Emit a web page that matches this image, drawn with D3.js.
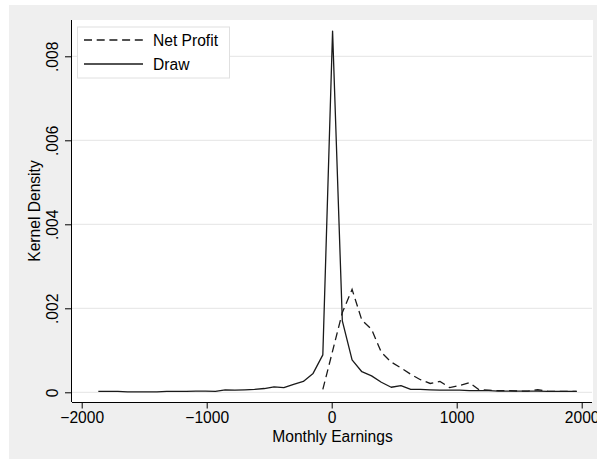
<!DOCTYPE html>
<html>
<head>
<meta charset="utf-8">
<script src="https://cdn.jsdelivr.net/npm/d3@7"></script>
<style>
  html, body { margin: 0; padding: 0; background: #ffffff; }
  svg { display: block; font-family: "Liberation Sans", Arial, Helvetica, sans-serif; }
</style>
</head>
<body>
<svg id="chart" width="597" height="459"></svg>
<script>
// Evaluation grid for the kernel density estimates (monthly earnings)
const gridX = [-1867, -1789, -1711, -1633, -1555, -1476, -1398, -1320, -1242, -1164,
               -1086, -1008, -930, -852, -774, -696, -617, -539, -461, -383,
               -305, -227, -149, -71, 7, 85, 163, 241, 319, 397,
               476, 554, 632, 710, 788, 866, 944, 1023, 1101, 1179,
               1257, 1335, 1413, 1492, 1570, 1648, 1726, 1804, 1882, 1960];

// Density of draws
const drawDensity = [0.00002, 0.00002, 0.00002, 0.00001, 0.00001, 0.00001, 0.00001, 0.00002, 0.00002, 0.00002,
                     0.00003, 0.00003, 0.00002, 0.00006, 0.00005, 0.00006, 0.00007, 0.00009, 0.00013, 0.00011,
                     0.00019, 0.00026, 0.00045, 0.00089, 0.00860, 0.00170, 0.00077, 0.00049, 0.00039, 0.00024,
                     0.00012, 0.00016, 0.00007, 0.00007, 0.00006, 0.00005, 0.00005, 0.00005, 0.00004, 0.00004,
                     0.00004, 0.00003, 0.00003, 0.00003, 0.00003, 0.00003, 0.00002, 0.00002, 0.00002, 0.00002];

// Density of net profit (defined from the 24th grid point on)
const profitStart = 23;
const profitDensity = [0.00007, 0.00098, 0.00190, 0.00245, 0.00172, 0.00150, 0.00095, 0.00072, 0.00058, 0.00043,
                       0.00030, 0.00021, 0.00026, 0.00011, 0.00016, 0.00023, 0.00006, 0.00005, 0.00004, 0.00004,
                       0.00003, 0.00003, 0.00006, 0.00003, 0.00002, 0.00002, 0.00002];

const xTicks = [-2000, -1000, 0, 1000, 2000];
const yTicks = [0, 0.002, 0.004, 0.006, 0.008];
const yTickLabels = ["0", ".002", ".004", ".006", ".008"];
const seriesNames = ["Net Profit", "Draw"];

const svg = d3.select("#chart");
const fontSize = 15.6;

// Outer graph region and white plot region
svg.append("rect").attr("x", 9).attr("y", 5).attr("width", 600).attr("height", 460)
  .attr("fill", "#efefef");
const plot = { left: 72, top: 20, right: 593, bottom: 402 };
svg.append("rect").attr("x", plot.left).attr("y", plot.top)
  .attr("width", plot.right - plot.left).attr("height", plot.bottom - plot.top)
  .attr("fill", "#ffffff");

const x = d3.scaleLinear().domain([-2000, 2000]).range([81.7, 581.7]);
const y = d3.scaleLinear().domain([0, 0.008]).range([392.3, 56.3]);

// Horizontal grid lines
svg.append("g").selectAll("line").data(yTicks).join("line")
  .attr("x1", plot.left).attr("x2", plot.right - 1)
  .attr("y1", d => y(d)).attr("y2", d => y(d))
  .attr("stroke", "#e4e4e4").attr("stroke-width", 1);

// Density curves
const line = d3.line().x(d => x(d[0])).y(d => y(d[1]));
const drawPts = gridX.map((v, i) => [v, drawDensity[i]]);
const profitPts = profitDensity.map((d, i) => [gridX[profitStart + i], d]);

svg.append("path").datum(profitPts).attr("d", line)
  .attr("fill", "none").attr("stroke", "#1a1a1a").attr("stroke-width", 1.3)
  .attr("stroke-dasharray", "8,4.7");
svg.append("path").datum(drawPts).attr("d", line)
  .attr("fill", "none").attr("stroke", "#1a1a1a").attr("stroke-width", 1.3)
  .attr("stroke-linejoin", "round");

// X axis
const xAxis = svg.append("g").attr("transform", `translate(0,${plot.bottom})`)
  .call(d3.axisBottom(x).tickValues(xTicks).tickSize(6.5).tickPadding(3)
    .tickFormat(d => d3.format("d")(d).replace("-", "\u2212")));
xAxis.select(".domain").attr("d", `M${plot.left},0.5H${plot.right - 1}`).attr("stroke", "#000");
xAxis.selectAll(".tick line").attr("stroke", "#000");
xAxis.selectAll("text").attr("font-size", fontSize).attr("fill", "#000")
  .attr("font-family", "Liberation Sans, Arial, sans-serif");

// Y axis with rotated labels
const yAxis = svg.append("g").attr("transform", `translate(${plot.left},0)`)
  .call(d3.axisLeft(y).tickValues(yTicks).tickSize(7)
    .tickFormat((d, i) => yTickLabels[i]));
yAxis.select(".domain").attr("d", `M-0.5,${plot.top}V${plot.bottom}`).attr("stroke", "#000");
yAxis.selectAll(".tick line").attr("stroke", "#000");
yAxis.selectAll(".tick text")
  .attr("x", null).attr("dy", null)
  .attr("transform", "translate(-14,0) rotate(-90)")
  .attr("text-anchor", "middle")
  .attr("font-size", fontSize).attr("fill", "#000")
  .attr("font-family", "Liberation Sans, Arial, sans-serif");

// Axis titles
svg.append("text").attr("x", (plot.left + plot.right) / 2).attr("y", 441.5)
  .attr("text-anchor", "middle").attr("font-size", fontSize).attr("fill", "#000")
  .text("Monthly Earnings");
svg.append("text").attr("transform", `translate(39.5,${(plot.top + plot.bottom) / 2}) rotate(-90)`)
  .attr("text-anchor", "middle").attr("font-size", fontSize).attr("fill", "#000")
  .text("Kernel Density");

// Legend
const legend = svg.append("g");
legend.append("rect").attr("x", 77.5).attr("y", 27).attr("width", 152).attr("height", 51)
  .attr("fill", "#ffffff").attr("stroke", "#e0e0e0").attr("stroke-width", 1);
const legendRows = [{ name: seriesNames[0], dash: "8,4.7", y: 40 }, { name: seriesNames[1], dash: null, y: 64 }];
legendRows.forEach(r => {
  legend.append("line").attr("x1", 84).attr("x2", 143).attr("y1", r.y).attr("y2", r.y)
    .attr("stroke", "#1a1a1a").attr("stroke-width", 1.3)
    .attr("stroke-dasharray", r.dash);
  legend.append("text").attr("x", 153).attr("y", r.y + 6).attr("font-size", fontSize)
    .attr("fill", "#000").text(r.name);
});
</script>
</body>
</html>
